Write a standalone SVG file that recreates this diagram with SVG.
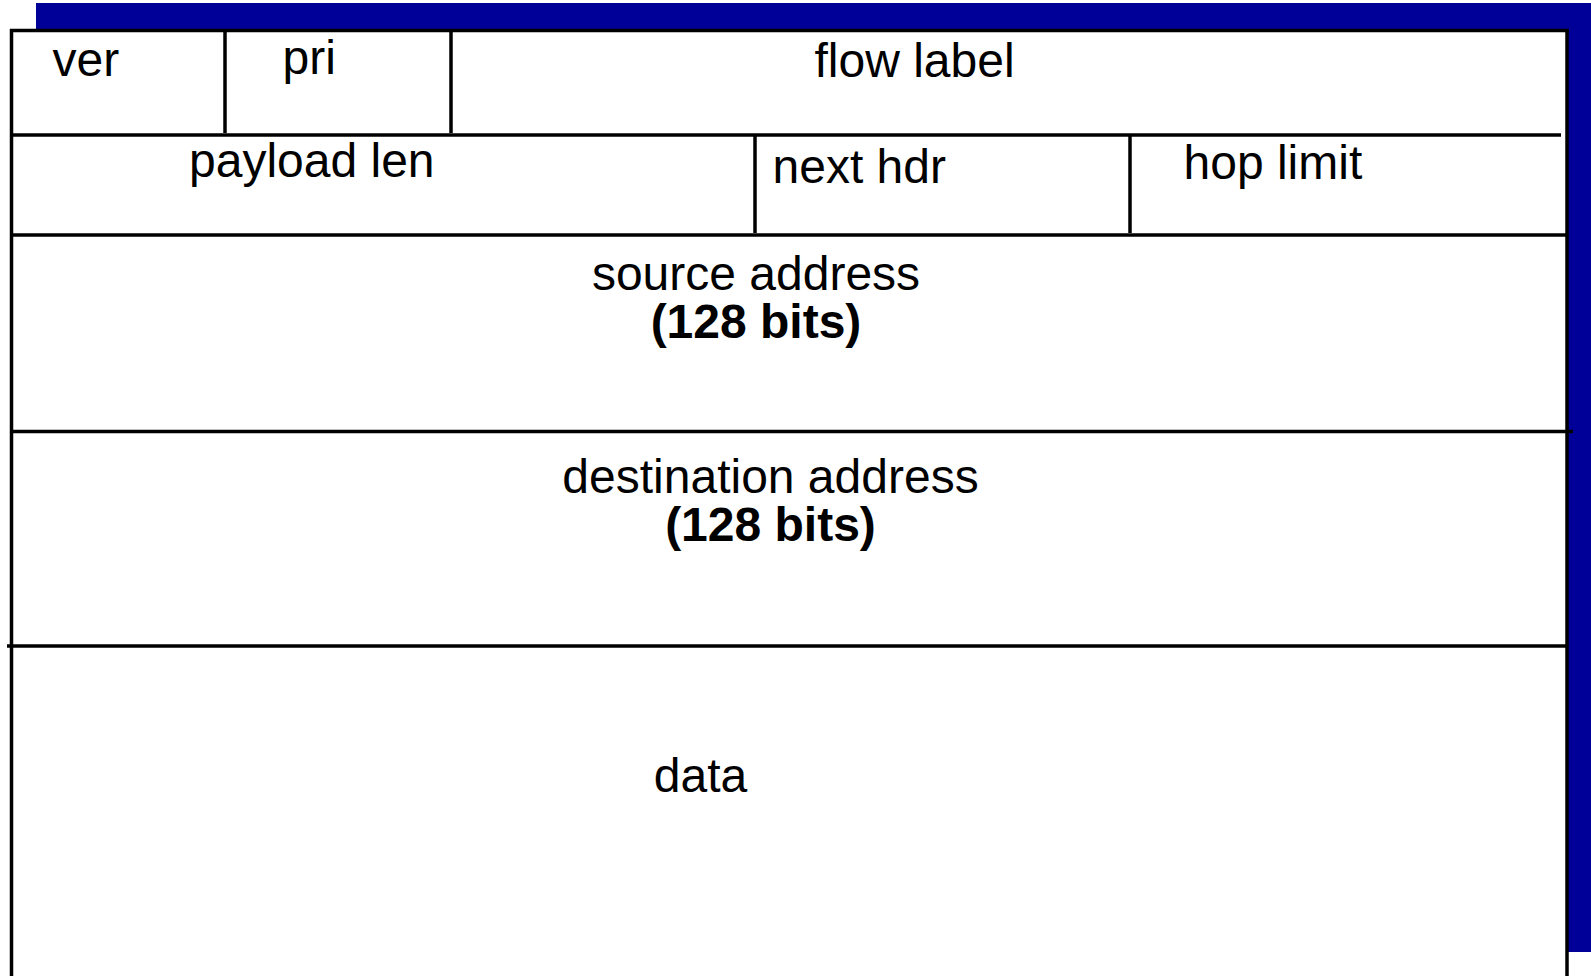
<svg xmlns="http://www.w3.org/2000/svg" width="1591" height="976" viewBox="0 0 1591 976">
  <style>
    .t { font-family: "Liberation Sans", Arial, sans-serif; font-size: 48px; fill: #000; }
    .b { font-weight: bold; }
    .ln { stroke: #000; stroke-width: 3.5; fill: none; }
  </style>
  <rect x="0" y="0" width="1591" height="976" fill="#ffffff"/>
  <rect id="bg-frame" x="36" y="3" width="1555" height="949" fill="#000099"/>
  <rect id="packet" x="11.5" y="30.5" width="1555.5" height="950" fill="#ffffff"/>
  <g id="lines">
    <line class="ln" x1="10" y1="30.5" x2="1569" y2="30.5"/>
    <line class="ln" x1="11.5" y1="29" x2="11.5" y2="976"/>
    <line class="ln" x1="1567" y1="29" x2="1567" y2="976"/>
    <line class="ln" x1="11" y1="135" x2="1561" y2="135"/>
    <line class="ln" x1="11" y1="235" x2="1567" y2="235"/>
    <line class="ln" x1="11" y1="431.5" x2="1573" y2="431.5"/>
    <line class="ln" x1="7" y1="646" x2="1567" y2="646"/>
    <line class="ln" x1="225" y1="32" x2="225" y2="133"/>
    <line class="ln" x1="451" y1="32" x2="451" y2="133"/>
    <line class="ln" x1="755" y1="136" x2="755" y2="233"/>
    <line class="ln" x1="1130" y1="136" x2="1130" y2="233"/>
  </g>
  <g id="ver"><text class="t" x="52.5" y="75.5">ver</text></g>
  <g id="pri"><text class="t" x="282.5" y="73.5">pri</text></g>
  <g id="flow-label"><text class="t" x="814.5" y="77">flow label</text></g>
  <g id="payload-len"><text class="t" x="189" y="177">payload len</text></g>
  <g id="next-hdr"><text class="t" x="772.5" y="183">next hdr</text></g>
  <g id="hop-limit"><text class="t" x="1183.5" y="179">hop limit</text></g>
  <g id="source-address">
    <text class="t" x="756" y="289.5" text-anchor="middle">source address</text>
    <text class="t b" x="756" y="338" text-anchor="middle">(128 bits)</text>
  </g>
  <g id="destination-address">
    <text class="t" x="770.5" y="492.5" text-anchor="middle">destination address</text>
    <text class="t b" x="770.5" y="541" text-anchor="middle">(128 bits)</text>
  </g>
  <g id="data"><text class="t" x="700.5" y="792" text-anchor="middle">data</text></g>
</svg>
